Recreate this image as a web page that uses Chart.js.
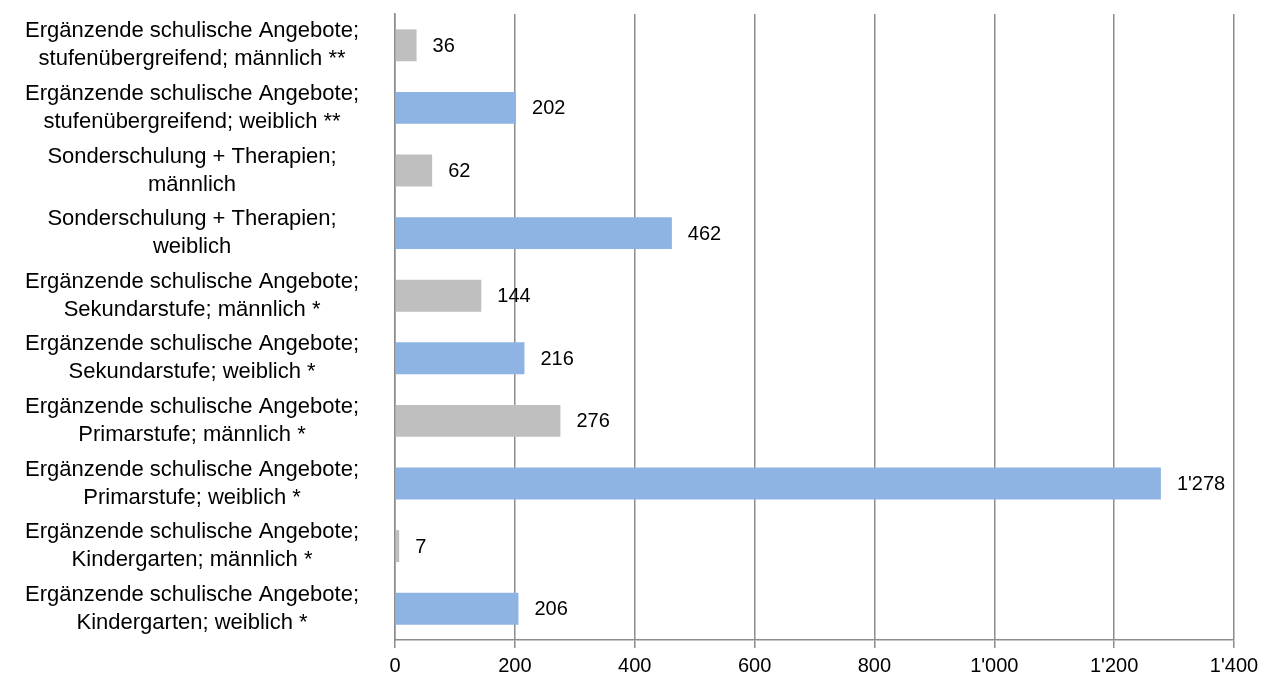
<!DOCTYPE html>
<html>
<head>
<meta charset="utf-8">
<script src="https://cdn.jsdelivr.net/npm/chart.js@4"></script>
<style>
    html, body { margin: 0; padding: 0; background: #fff; }
    #wrap { width: 1264px; height: 675px; }
</style>
</head>
<body>
<div id="wrap"><canvas id="barChart"></canvas></div>
<script>
// ================= DATA =================
const categories = [
    ["Ergänzende schulische Angebote;", "stufenübergreifend; männlich **"],
    ["Ergänzende schulische Angebote;", "stufenübergreifend; weiblich **"],
    ["Sonderschulung + Therapien;", "männlich"],
    ["Sonderschulung + Therapien;", "weiblich"],
    ["Ergänzende schulische Angebote;", "Sekundarstufe; männlich *"],
    ["Ergänzende schulische Angebote;", "Sekundarstufe; weiblich *"],
    ["Ergänzende schulische Angebote;", "Primarstufe; männlich *"],
    ["Ergänzende schulische Angebote;", "Primarstufe; weiblich *"],
    ["Ergänzende schulische Angebote;", "Kindergarten; männlich *"],
    ["Ergänzende schulische Angebote;", "Kindergarten; weiblich *"]
];

const values = [36, 202, 62, 462, 144, 216, 276, 1278, 7, 206];

const xTicks = [0, 200, 400, 600, 800, 1000, 1200, 1400];

// ================= HELPERS =================
const FONT = "'Liberation Sans', Arial, sans-serif";

// 1278 -> 1'278
const fmt = (v) => String(v).replace(/\B(?=(\d{3})+(?!\d))/g, "'");

const barColors = categories.map(c =>
    c[1].includes("männlich") ? "#BFBFBF" : "#8EB4E3"
);

// draw value labels right of each bar
const valueLabels = {
    id: "valueLabels",
    afterDatasetsDraw(chart) {
        const { ctx } = chart;
        const meta = chart.getDatasetMeta(0);
        ctx.save();
        ctx.font = "20px " + FONT;
        ctx.fillStyle = "#000";
        ctx.textAlign = "left";
        ctx.textBaseline = "middle";
        meta.data.forEach((bar, i) => {
            ctx.fillText(fmt(values[i]), bar.x + 16, bar.y + 1);
        });
        ctx.restore();
    }
};

// ================= CHART =================
const ctx = document.getElementById("barChart").getContext("2d");

new Chart(ctx, {
    type: "bar",
    data: {
        labels: categories,
        datasets: [{
            data: values,
            backgroundColor: barColors,
            barPercentage: 0.51,
            categoryPercentage: 1
        }]
    },
    plugins: [valueLabels],
    options: {
        indexAxis: "y",
        responsive: true,
        maintainAspectRatio: false,
        animation: false,
        layout: {
            padding: { top: 14, right: 30, bottom: 0, left: 0 }
        },
        plugins: {
            legend: { display: false },
            tooltip: { enabled: false }
        },
        scales: {
            x: {
                min: 0,
                max: 1400,
                afterBuildTicks: (axis) => {
                    axis.ticks = xTicks.map(v => ({ value: v }));
                },
                afterFit: (axis) => {
                    axis.height = 35;
                    axis.paddingLeft = 0;
                    axis.paddingRight = 0;
                },
                grid: {
                    color: "#8C8C8C",
                    lineWidth: 1.5,
                    tickLength: 8,
                    drawTicks: true
                },
                border: { color: "#8C8C8C", width: 1.5 },
                ticks: {
                    padding: 6,
                    color: "#000",
                    font: { family: FONT, size: 20 },
                    maxRotation: 0,
                    callback: (v) => fmt(v)
                }
            },
            y: {
                afterFit: (axis) => {
                    axis.width = 395;
                    axis.paddingTop = 0;
                    axis.paddingBottom = 0;
                },
                grid: { display: false, drawTicks: false },
                border: { color: "#8C8C8C", width: 1.5 },
                ticks: {
                    color: "#000",
                    crossAlign: "center",
                    padding: 36,
                    font: { family: FONT, size: 22, lineHeight: 1.27 }
                }
            }
        }
    }
});
</script>
</body>
</html>
